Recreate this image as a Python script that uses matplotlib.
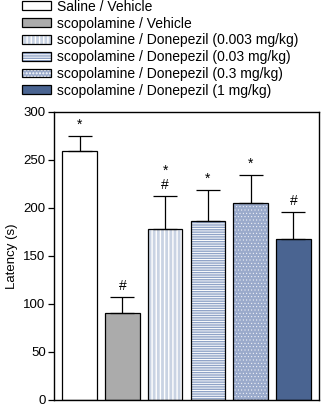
import matplotlib
matplotlib.use("Agg")
import matplotlib.pyplot as plt
from matplotlib.patches import Patch
from matplotlib.legend_handler import HandlerTuple

plt.rcParams["font.family"] = ["Liberation Sans", "DejaVu Sans"]
plt.rcParams["hatch.linewidth"] = 1.0

# data
groups = [
    "Saline / Vehicle",
    "scopolamine / Vehicle",
    "scopolamine / Donepezil (0.003 mg/kg)",
    "scopolamine / Donepezil (0.03 mg/kg)",
    "scopolamine / Donepezil (0.3 mg/kg)",
    "scopolamine / Donepezil (1 mg/kg)",
]
latency = [259, 91, 178.5, 186, 205, 167.5]
sem = [16, 16, 34, 33, 29, 28]
marks = [["*"], ["#"], ["#", "*"], ["*"], ["*"], ["#"]]  # bottom to top
yticks = [0, 50, 100, 150, 200, 250, 300]

# fill style per bar: (face, hatch, hatch colour, hatch linewidth)
styles = [
    ("white", None, None, 1.0),
    ("#ababab", None, None, 1.0),
    ("#c9d3e3", "||||", "white", 1.0),
    ("white", "-------", "#8fa3c7", 1.0),
    ("#9aaacb", ".....", "white", 0.3),
    ("#4a6491", None, None, 1.0),
]

fig = plt.figure(figsize=(3.23, 4.12), dpi=100)
ax = fig.add_axes([54 / 323, 12 / 412, 265 / 323, 288 / 412])

x = list(range(len(groups)))
w = 0.81
handles = []
for i in x:
    face, hatch, hcol, hlw = styles[i]
    with plt.rc_context({"hatch.linewidth": hlw}):
        if hatch:
            ax.bar(i, latency[i], w, color=face, edgecolor=hcol, hatch=hatch, linewidth=0, zorder=2)
        else:
            ax.bar(i, latency[i], w, color=face, linewidth=0, zorder=2)
        under = Patch(facecolor=face, edgecolor=hcol if hatch else face, hatch=hatch, linewidth=0)
    ax.bar(i, latency[i], w, fill=False, edgecolor="black", linewidth=0.9, zorder=3)
    outline = Patch(fill=False, edgecolor="black", linewidth=0.9)
    handles.append((under, outline))

ax.errorbar(x, latency, yerr=[[0] * len(sem), sem], fmt="none", ecolor="black",
            elinewidth=0.9, capsize=8.5, capthick=0.9, zorder=4)

for i in x:
    top = latency[i] + sem[i]
    for k, m in enumerate(marks[i]):
        ax.annotate(m, (i, top), xytext=(0, 8 + 10 * k), textcoords="offset points",
                    ha="center", va="center", fontsize=10, color="black")

ax.set_xlim(-0.6, 5.6)
ax.set_ylim(0, 300)
ax.set_xticks([])
ax.set_yticks(yticks)
ax.tick_params(axis="y", direction="out", length=4, width=0.9, labelsize=9.5, pad=2)
for s in ax.spines.values():
    s.set_linewidth(1.0)
ax.set_ylabel("Latency (s)", fontsize=9.5, labelpad=4)

fig.legend(handles, groups, handler_map={tuple: HandlerTuple(ndivide=1)},
           loc="upper left", bbox_to_anchor=(0.05, 1.014), frameon=False,
           fontsize=10, handlelength=2.1, handleheight=0.6,
           handletextpad=0.45, labelspacing=0.2, borderaxespad=0)

fig.savefig("out.png", dpi=100)
